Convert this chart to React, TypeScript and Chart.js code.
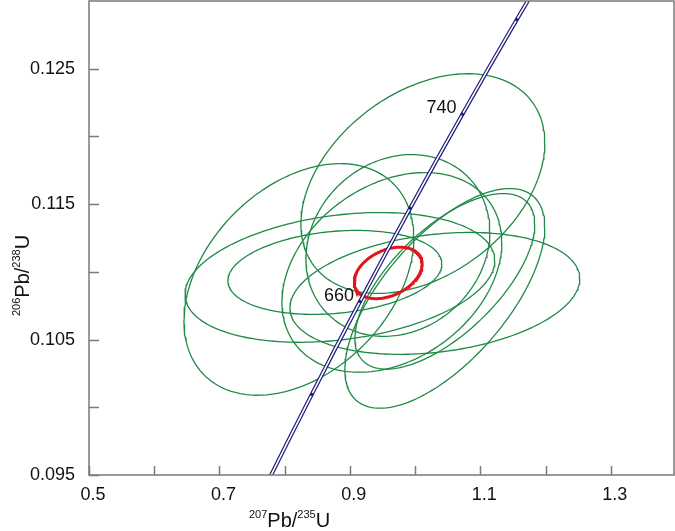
import React, { useEffect, useRef } from 'react';
import { Chart, registerables } from 'chart.js';
Chart.register(...registerables);

// Axis ticks
const xTicks = [0.5, 0.6, 0.7, 0.8, 0.9, 1.0, 1.1, 1.2, 1.3];
const xTickLabels = ['0.5', '', '0.7', '', '0.9', '', '1.1', '', '1.3'];
const yTicks = [0.095, 0.1, 0.105, 0.11, 0.115, 0.12, 0.125];
const yTickLabels = ['0.095', '', '0.105', '', '0.115', '', '0.125'];
const xMin = 0.5;
const xMax = 1.397;
const yMin = 0.095;
const yMax = 0.13;

// Concordia curve (age in Ma, 207Pb/235U, 206Pb/238U)
const concordiaAge = [580, 600, 620, 640, 660, 680, 700, 720, 740, 760, 780, 800];
const concordiaX = [0.7704, 0.8056, 0.8416, 0.8782, 0.9155, 0.9537, 0.9925, 1.0321, 1.0726, 1.1138, 1.1558, 1.1987];
const concordiaY = [0.09414, 0.09754, 0.10095, 0.10438, 0.10781, 0.11125, 0.1147, 0.11817, 0.12164, 0.12513, 0.12862, 0.13213];
const markerAges = [620, 660, 700, 740, 780];
const labelAges = [660, 740];

// Analysis error ellipses (centre, half-widths, correlation)
const ellX = [1.0119, 0.8218, 0.8847, 0.877, 1.0303, 1.0456, 1.0456, 0.9736, 0.9644];
const ellXErr = [0.187, 0.1762, 0.2375, 0.164, 0.2222, 0.1533, 0.1379, 0.141, 0.1686];
const ellY = [0.11652, 0.10944, 0.10959, 0.10996, 0.10841, 0.10804, 0.1093, 0.11195, 0.10996];
const ellYErr = [0.00811, 0.00855, 0.00479, 0.0031, 0.0045, 0.00811, 0.00648, 0.00671, 0.00737];
const ellRho = [0.37, 0.36, 0.26, 0.2, 0.24, 0.65, 0.65, 0.15, 0.3];

// Concordia age ellipse
const meanX = [0.9587];
const meanXErr = [0.0521];
const meanY = [0.10992];
const meanYErr = [0.0019];
const meanRho = [0.35];

const FONT = '"Liberation Sans", Arial, sans-serif';

function ellipse(cx: number, ax: number, cy: number, by: number, rho: number) {
  const s = Math.sqrt(1 - rho * rho);
  const pts: { x: number; y: number }[] = [];
  const n = 200;
  for (let i = 0; i <= n; i++) {
    const t = (2 * Math.PI * i) / n;
    pts.push({ x: cx + ax * Math.cos(t), y: cy + by * (rho * Math.cos(t) + s * Math.sin(t)) });
  }
  return pts;
}

const framePlugin = {
  id: 'frame',
  afterDatasetsDraw(chart: any) {
    const { ctx, chartArea: a, scales } = chart;
    const xs = scales.x, ys = scales.y;
    ctx.save();
    // age labels
    ctx.fillStyle = '#111';
    ctx.font = `18px ${FONT}`;
    ctx.textAlign = 'right';
    ctx.textBaseline = 'alphabetic';
    labelAges.forEach((age) => {
      const i = concordiaAge.indexOf(age);
      const px = xs.getPixelForValue(concordiaX[i]);
      const py = ys.getPixelForValue(concordiaY[i]);
      ctx.fillText(String(age), px - 6, py - 1);
    });
    // frame
    ctx.strokeStyle = '#7a7a7a';
    ctx.lineWidth = 1.5;
    ctx.strokeRect(a.left, a.top, a.right - a.left, a.bottom - a.top);
    // inward ticks
    ctx.beginPath();
    xTicks.forEach((v) => {
      const px = Math.round(xs.getPixelForValue(v)) + 0.5;
      ctx.moveTo(px, a.bottom);
      ctx.lineTo(px, a.bottom - 9);
    });
    yTicks.forEach((v) => {
      const py = Math.round(ys.getPixelForValue(v)) + 0.5;
      ctx.moveTo(a.left, py);
      ctx.lineTo(a.left + 10, py);
    });
    ctx.stroke();

    // axis titles
    ctx.fillStyle = '#111';
    ctx.textAlign = 'left';
    const big = `20px ${FONT}`;
    const small = `11px ${FONT}`;
    const parts: [string, boolean][] = [['207', true], ['Pb/', false], ['235', true], ['U', false]];
    let x = 249;
    const base = 527;
    parts.forEach(([t, sup]) => {
      ctx.font = sup ? small : big;
      ctx.fillText(t, x, sup ? base - 9 : base);
      x += ctx.measureText(t).width;
    });
    const partsY: [string, boolean][] = [['206', true], ['Pb/', false], ['238', true], ['U', false]];
    ctx.translate(29, 316);
    ctx.rotate(-Math.PI / 2);
    let yx = 0;
    partsY.forEach(([t, sup]) => {
      ctx.font = sup ? small : big;
      ctx.fillText(t, yx, sup ? -9 : 0);
      yx += ctx.measureText(t).width;
    });
    ctx.restore();
  },
};

function zeroPad(s: any) {
  s.paddingTop = 0;
  s.paddingBottom = 0;
  s.paddingLeft = 0;
  s.paddingRight = 0;
}

export default function App() {
  const ref = useRef<HTMLCanvasElement>(null);
  useEffect(() => {
    if (!ref.current) return;
    const datasets: any[] = [];
    // concordia markers
    datasets.push({
      data: markerAges.map((age) => {
        const i = concordiaAge.indexOf(age);
        return { x: concordiaX[i], y: concordiaY[i] };
      }),
      showLine: false,
      pointRadius: 1.6,
      pointBackgroundColor: '#1c1c78',
      pointBorderWidth: 0,
      order: -1,
    });
    const conc = concordiaX.map((x, i) => ({ x, y: concordiaY[i] }));
    datasets.push({ data: conc, showLine: true, borderColor: '#ffffff', borderWidth: 1.6, pointRadius: 0, order: 0 });
    datasets.push({ data: conc, showLine: true, borderColor: '#1c1c78', borderWidth: 4, pointRadius: 0, order: 1 });
    meanX.forEach((mx, i) => {
      datasets.push({
        data: ellipse(mx, meanXErr[i], meanY[i], meanYErr[i], meanRho[i]),
        showLine: true,
        borderColor: '#e3141b',
        borderWidth: 3,
        pointRadius: 0,
        order: 2,
      });
    });
    ellX.forEach((cx, i) => {
      datasets.push({
        data: ellipse(cx, ellXErr[i], ellY[i], ellYErr[i], ellRho[i]),
        showLine: true,
        borderColor: '#1f8a45',
        borderWidth: 1.3,
        pointRadius: 0,
        order: 3,
      });
    });

    const chart = new Chart(ref.current, {
      type: 'scatter',
      data: { datasets },
      options: {
        responsive: false,
        animation: false,
        events: [],
        layout: { autoPadding: false, padding: { top: 1, right: 1, left: 0, bottom: 0 } },
        plugins: { legend: { display: false }, tooltip: { enabled: false } },
        elements: { line: { tension: 0 } },
        scales: {
          x: {
            type: 'linear',
            min: xMin,
            max: xMax,
            afterBuildTicks: (s: any) => {
              s.ticks = xTicks.map((v) => ({ value: v }));
            },
            afterFit: (s: any) => {
              s.height = 56;
              zeroPad(s);
            },
            grid: { display: false, drawTicks: false },
            border: { display: false },
            ticks: {
              callback: (_v: any, i: number) => xTickLabels[i],
              font: { family: FONT, size: 18 },
              color: '#111',
              padding: 9,
              labelOffset: 4,
              maxRotation: 0,
              autoSkip: false,
            },
          },
          y: {
            type: 'linear',
            min: yMin,
            max: yMax,
            afterBuildTicks: (s: any) => {
              s.ticks = yTicks.map((v) => ({ value: v }));
            },
            afterFit: (s: any) => {
              s.width = 89;
              zeroPad(s);
            },
            grid: { display: false, drawTicks: false },
            border: { display: false },
            ticks: {
              callback: (_v: any, i: number) => yTickLabels[i],
              font: { family: FONT, size: 18 },
              color: '#111',
              padding: 14,
              autoSkip: false,
            },
          },
        },
      },
      plugins: [framePlugin],
    });
    return () => chart.destroy();
  }, []);
  return (
    <div style={{ position: 'fixed', left: 0, top: 0, width: 675, height: 531, background: '#fff' }}>
      <canvas ref={ref} width={675} height={531} style={{ display: 'block' }} />
    </div>
  );
}
